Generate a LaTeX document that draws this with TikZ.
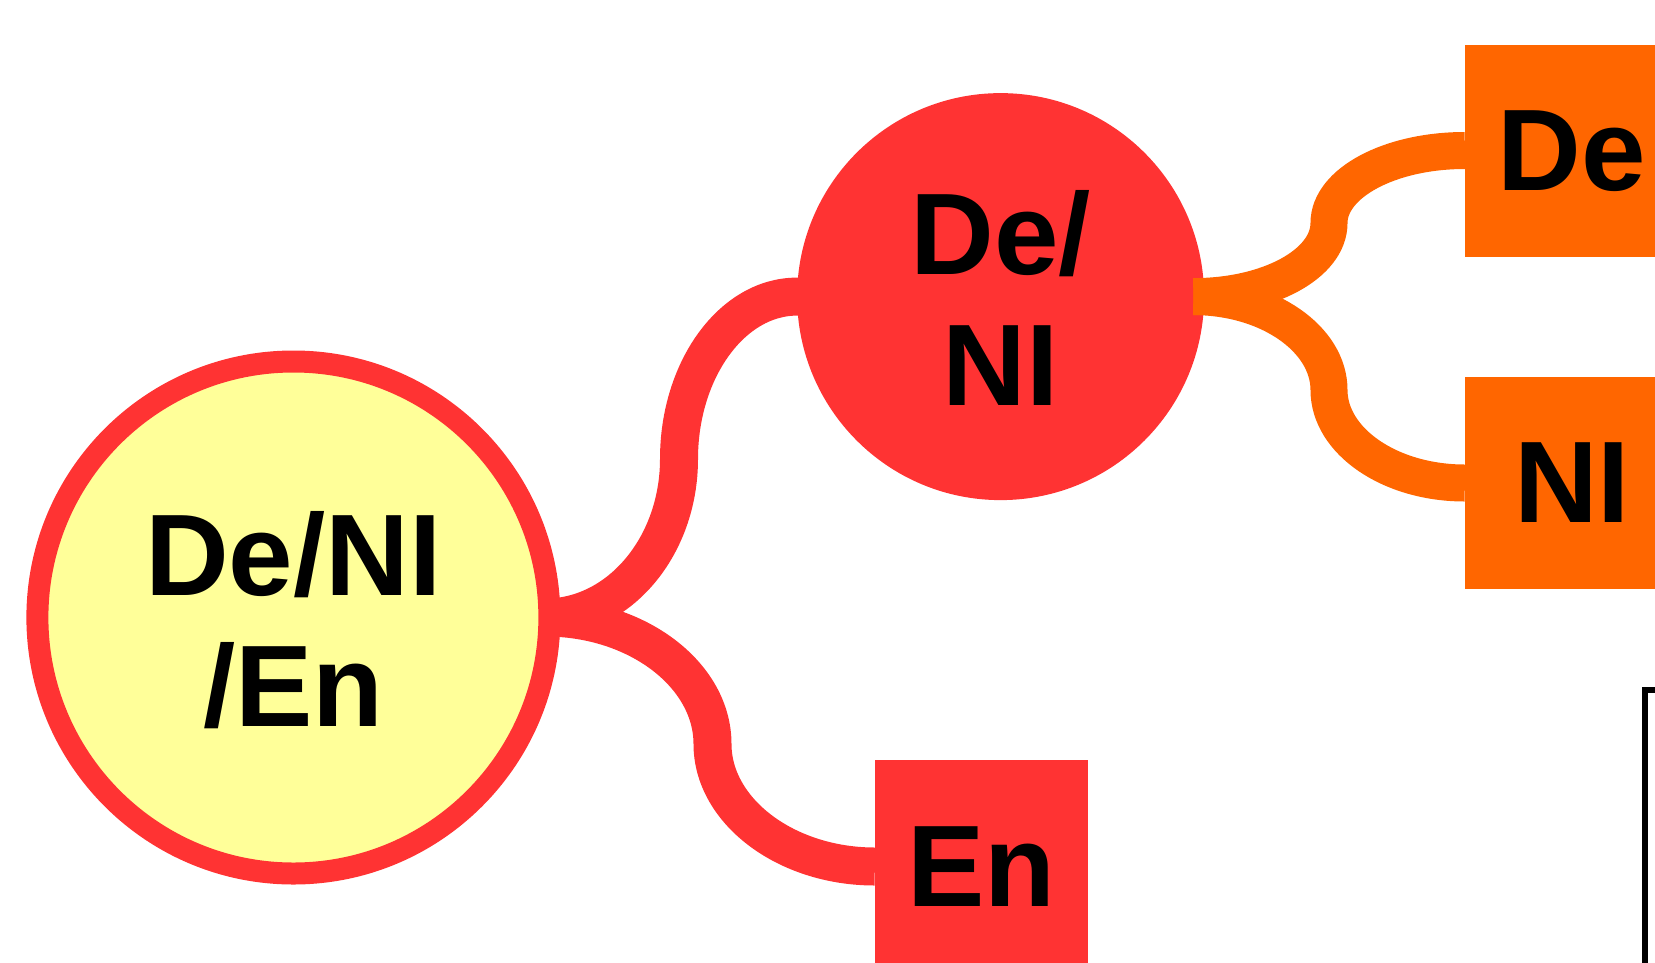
\documentclass[tikz,border=0pt]{standalone}
\usepackage{fontspec}
\setmainfont{Liberation Sans}
\pgfdeclarelayer{background}
\pgfsetlayers{background,main}
\definecolor{cred}{RGB}{255,51,51}
\definecolor{corange}{RGB}{255,102,0}
\definecolor{cyellow}{RGB}{255,255,153}
\tikzset{
  lbl/.style={font=\fontsize{116}{131}\selectfont\bfseries, align=center, text=black, inner sep=0pt},
  bigcirc/.style={circle, lbl, draw=cred, line width=22pt, fill=cyellow, minimum size=512pt},
  midcirc/.style={circle, lbl, fill=cred, minimum size=407pt},
  obox/.style={rectangle, lbl, text depth=0pt, fill=corange, minimum width=214pt, minimum height=212pt},
  rbox/.style={rectangle, lbl, text depth=0pt, fill=cred, minimum width=213pt, minimum height=213pt},
  edgebox/.style={rectangle, draw=black, line width=6pt, fill=white, outer sep=0pt, minimum width=100pt, minimum height=400pt, anchor=north west},
  redlink/.style={draw=cred, line width=38pt},
  orangelink/.style={draw=corange, line width=37pt, line cap=butt},
}
\begin{document}
\begin{tikzpicture}[x=1pt,y=-1pt]
\useasboundingbox (0,0) rectangle (1655,962);
\clip (0,0) rectangle (1655,962);
\node[bigcirc] (big) at (293.4,617.5) {\rule{0pt}{88.4pt}De/NI\\/En};
\node[midcirc] (mid) at (1000.6,296.6) {\rule{0pt}{86pt}De/\\NI};
\node[obox] (de) at (1572,150.5) {De};
\node[obox] (ni) at (1572,483) {NI};
\node[rbox] (en) at (981.5,866.5) {En};
\node[edgebox] (edge) at (1645,690) {};
\coordinate (bs) at ([xshift=252pt]big.center);
\coordinate (os) at ([xshift=-11pt]mid.east);
\coordinate (r1) at (679,459);
\coordinate (r2) at (712.5,744);
\coordinate (o1) at (1329,223);
\coordinate (o2) at (1329,390);
\begin{pgfonlayer}{background}
\draw[redlink] (bs) .. controls +(74,0) and +(0,87) .. (r1) .. controls +(0,-89) and +(-65,0) .. (mid.west) -- ++(20,0);
\draw[redlink] (bs) .. controls +(92,0) and +(0,-69) .. (r2) .. controls +(0,67) and +(-89,0) .. (en.west);
\end{pgfonlayer}
\draw[orangelink] (os) .. controls +(75,0) and +(0,41) .. (o1) .. controls +(0,-40) and +(-75,0) .. (de.west);
\draw[orangelink] (os) .. controls +(75,0) and +(0,-51) .. (o2) .. controls +(0,51) and +(-75,0) .. (ni.west);
\end{tikzpicture}
\end{document}
